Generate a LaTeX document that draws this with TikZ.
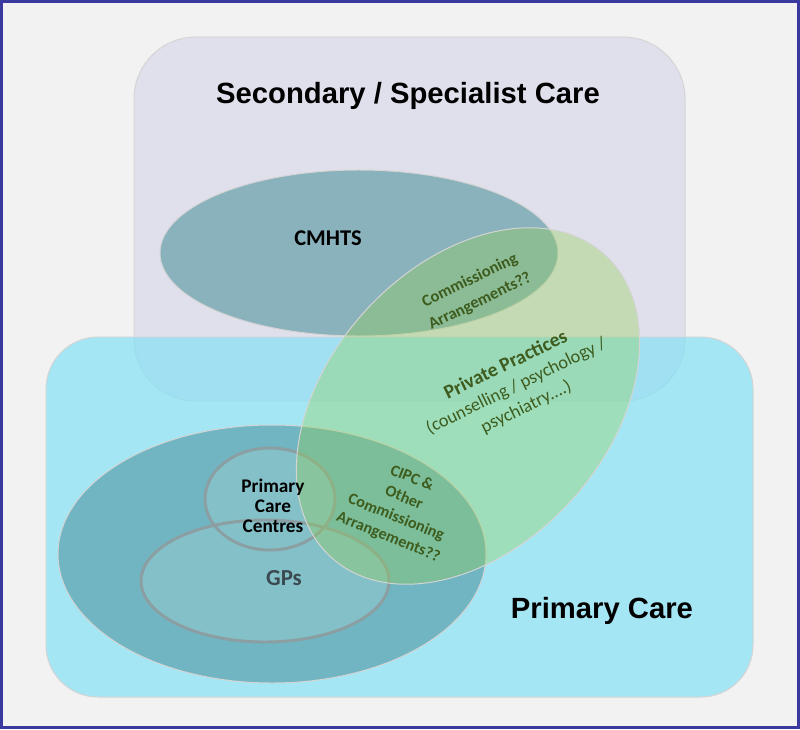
\documentclass[tikz,border=0pt]{standalone}
\usepackage{fontspec}
\setmainfont{Carlito}
\newfontfamily\arialfont{Liberation Sans}
\definecolor{bgcol}{HTML}{F2F2F2}
\definecolor{framecol}{HTML}{3A3A9E}
\definecolor{seccol}{HTML}{E0E0EC}
\definecolor{primcol}{HTML}{85E1F5}
\definecolor{cmhtscol}{HTML}{8AB2BD}
\definecolor{darkcol}{HTML}{70B5C1}
\definecolor{ringfill}{HTML}{84C0C8}
\definecolor{ringcol}{HTML}{8B9FA3}
\definecolor{ppgreen}{HTML}{92D050}
\definecolor{txtgreen}{HTML}{3D5C1E}
\definecolor{gpstext}{HTML}{3A4A50}

\begin{document}
\begin{tikzpicture}[x=0.025cm, y=-0.025cm,
    box/.style={draw=black!17, line width=0.7pt},
    title/.style={font=\arialfont\bfseries\fontsize{20.8}{25}\selectfont},
    greentext/.style={text=txtgreen, align=center, font=\bfseries\fontsize{11.7}{16.5}\selectfont},
    ring/.style={draw=ringcol, line width=2.1pt}]
  \useasboundingbox (0,0) rectangle (800,729);
  \draw[draw=framecol, line width=2.2pt, fill=bgcol] (1.6,1.6) rectangle (798.4,727.4);
  \draw[box, fill=seccol, rounded corners=1.55cm] (134,37) rectangle (685,401);
  \draw[box, fill=primcol, fill opacity=0.7, rounded corners=1.3cm] (46,337) rectangle (753,697);
  \draw[box, fill=cmhtscol] (359,253) ellipse [x radius=199, y radius=83];
  \draw[box, fill=darkcol] (272,554) ellipse [x radius=214, y radius=129];
  \fill[ringfill] (270,499) ellipse [x radius=65, y radius=51];
  \fill[ringfill] (265,581) ellipse [x radius=124, y radius=61];
  \draw[ring] (270,499) ellipse [x radius=65, y radius=51];
  \draw[ring] (265,581) ellipse [x radius=124, y radius=61];
  \draw[box, fill=ppgreen, fill opacity=0.35, rotate around={48:(468,406)}] (468,406) ellipse [x radius=204, y radius=140];

  \node[title] (sectitle) at (408,96) {Secondary / Specialist Care};
  \node[title] (primtitle) at (602,611) {Primary Care};
  \node[font=\bfseries\fontsize{16}{19}\selectfont] (cmhts) at (328,238) {CMHTS};
  \node[greentext, rotate=26] (commarr) at (475,291) {Commissioning\\Arrangements??};
  \node[text=txtgreen, align=center, rotate=26, font=\fontsize{13}{16.4}\selectfont] (private) at (516,386)
    {\textbf{\fontsize{14}{16.4}\selectfont Private Practices}\\(counselling / psychology /\\psychiatry....)};
  \node[greentext, rotate=-22, font=\bfseries\fontsize{11.5}{15}\selectfont] (cipc) at (400,508)
    {CIPC \&\\Other\\Commissioning\\Arrangements??};
  \node[align=center, font=\bfseries\fontsize{13.7}{14.2}\selectfont] (pcc) at (273,506) {Primary\\Care\\Centres};
  \node[text=gpstext, font=\bfseries\fontsize{16.3}{19}\selectfont] (gps) at (284,578) {GPs};
\end{tikzpicture}
\end{document}
